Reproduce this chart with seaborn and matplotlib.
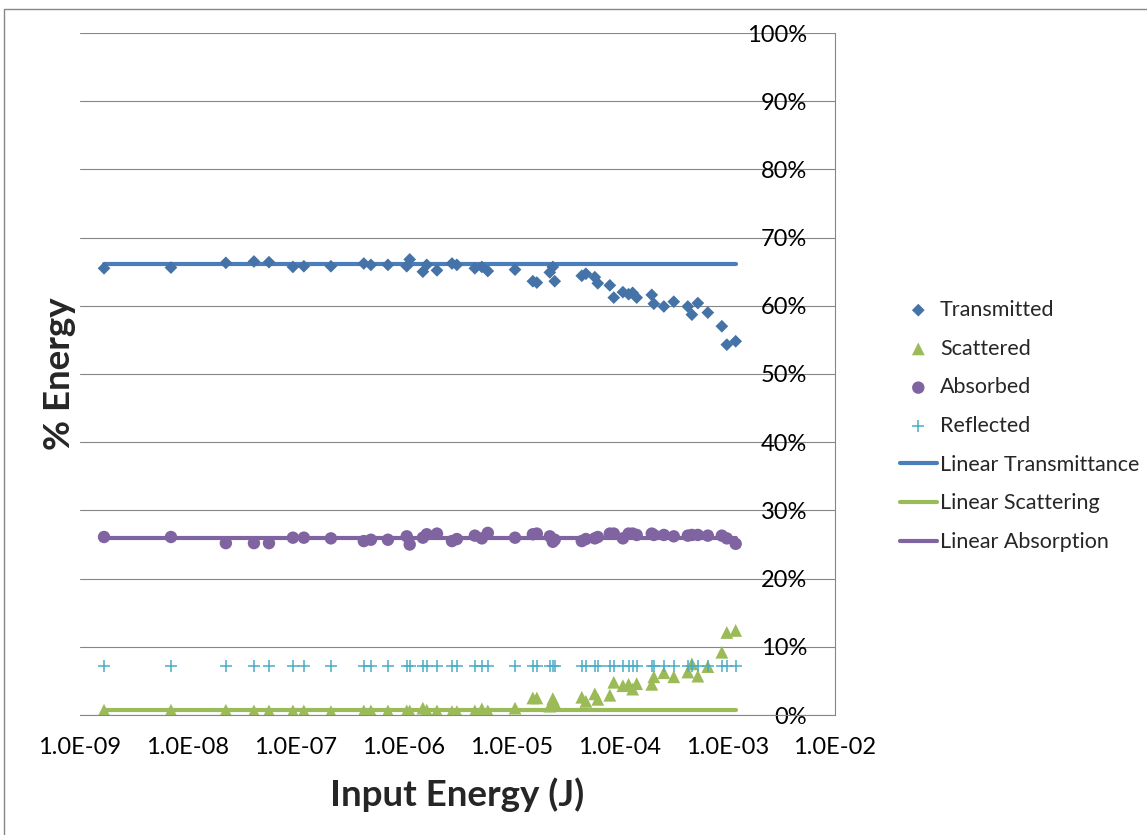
import numpy as np
import pandas as pd
import matplotlib
matplotlib.use("Agg")
import matplotlib.pyplot as plt
import matplotlib.ticker as ticker
from matplotlib.patches import Rectangle
import seaborn as sns

# input energy (J)
energy = [1.67e-9, 6.97e-9, 2.25e-8, 4.10e-8, 5.65e-8, 9.42e-8, 1.19e-7, 2.12e-7,
          4.28e-7, 4.98e-7, 7.16e-7, 1.07e-6, 1.14e-6, 1.51e-6, 1.64e-6, 2.04e-6,
          2.81e-6, 3.12e-6, 4.58e-6, 5.32e-6, 6.04e-6, 1.08e-5, 1.58e-5, 1.72e-5,
          2.27e-5, 2.42e-5, 2.52e-5, 4.49e-5, 4.90e-5, 5.93e-5, 6.32e-5, 8.17e-5,
          8.89e-5, 1.08e-4, 1.22e-4, 1.33e-4, 1.45e-4, 2.00e-4, 2.09e-4, 2.59e-4,
          3.20e-4, 4.32e-4, 4.71e-4, 5.35e-4, 6.62e-4, 8.93e-4, 9.93e-4, 1.20e-3]

# % energy per channel
transmitted = [65.5, 65.6, 66.3, 66.5, 66.4, 65.7, 65.8, 65.8, 66.2, 66.0, 66.0, 65.8,
               66.8, 65.0, 66.0, 65.2, 66.2, 66.0, 65.5, 65.7, 65.1, 65.3, 63.6, 63.4,
               64.9, 65.7, 63.6, 64.4, 64.7, 64.2, 63.3, 63.0, 61.2, 62.0, 61.7, 61.9,
               61.2, 61.6, 60.3, 59.9, 60.6, 59.9, 58.7, 60.4, 59.0, 57.0, 54.3, 54.8]
scattered = [0.7, 0.7, 0.7, 0.6, 0.6, 0.6, 0.6, 0.5, 0.6, 0.6, 0.6, 0.6,
             0.6, 1.0, 0.7, 0.6, 0.5, 0.5, 0.6, 0.9, 0.6, 1.0, 2.5, 2.5,
             1.3, 2.4, 1.8, 2.6, 2.0, 3.1, 2.3, 2.9, 4.8, 4.3, 4.5, 3.8,
             4.6, 4.5, 5.6, 6.2, 5.6, 6.3, 7.5, 5.7, 7.1, 9.2, 12.1, 12.4]
absorbed = [26.1, 26.1, 25.2, 25.2, 25.2, 26.0, 26.0, 25.9, 25.5, 25.7, 25.7, 26.2,
            25.0, 26.0, 26.5, 26.6, 25.5, 25.8, 26.3, 25.9, 26.7, 26.0, 26.5, 26.6,
            26.2, 25.4, 25.7, 25.5, 25.8, 25.9, 26.1, 26.6, 26.6, 25.9, 26.6, 26.6,
            26.4, 26.6, 26.4, 26.4, 26.2, 26.3, 26.4, 26.4, 26.3, 26.3, 25.9, 25.1]
reflected = [7.2, 7.2, 7.2, 7.2, 7.2, 7.2, 7.2, 7.2, 7.2, 7.2, 7.2, 7.2,
             7.2, 7.2, 7.2, 7.2, 7.2, 7.2, 7.2, 7.2, 7.2, 7.2, 7.2, 7.2,
             7.2, 7.2, 7.2, 7.2, 7.2, 7.2, 7.2, 7.2, 7.2, 7.2, 7.2, 7.2,
             7.2, 7.2, 7.2, 7.2, 7.2, 7.2, 7.2, 7.2, 7.2, 7.2, 7.2, 7.2]

# linear trendline levels (%)
fit_transmittance = 66.1
fit_scattering = 0.8
fit_absorption = 25.9

x_decades = [1e-9, 1e-8, 1e-7, 1e-6, 1e-5, 1e-4, 1e-3, 1e-2]

df = pd.DataFrame({"energy": energy, "Transmitted": transmitted, "Scattered": scattered,
                   "Absorbed": absorbed, "Reflected": reflected})

sns.set_style("white")
plt.rcParams["font.family"] = ["Lato", "DejaVu Sans"]

fig = plt.figure(figsize=(11.47, 8.35), dpi=100)
ax = fig.add_axes([80 / 1147, 120 / 835, 755 / 1147, 682 / 835])

grey = "#868686"

# trendlines first, markers on top
e_span = [min(energy), max(energy)]
for level, col, name in [(fit_transmittance, "#4A7EBB", "Linear Transmittance"),
                         (fit_scattering, "#9BBB59", "Linear Scattering"),
                         (fit_absorption, "#7F64A2", "Linear Absorption")]:
    fit_df = pd.DataFrame({"energy": e_span, "level": [level, level]})
    sns.lineplot(data=fit_df, x="energy", y="level", color=col, linewidth=3,
                 label=name, ax=ax, zorder=2)

sns.scatterplot(data=df, x="energy", y="Transmitted", marker="D", s=42, color="#4572A7",
                edgecolor="none", label="Transmitted", ax=ax, zorder=3)
sns.scatterplot(data=df, x="energy", y="Scattered", marker="^", s=85, color="#9BBB59",
                edgecolor="none", label="Scattered", ax=ax, zorder=3)
sns.scatterplot(data=df, x="energy", y="Absorbed", marker="o", s=80, color="#8064A2",
                edgecolor="none", label="Absorbed", ax=ax, zorder=3)
sns.scatterplot(data=df, x="energy", y="Reflected", marker="+", s=65, color="#4BACC6",
                linewidth=1.1, label="Reflected", ax=ax, zorder=3)

ax.set_xscale("log")
ax.set_xlim(1e-9, 1e-2)
ax.set_ylim(0, 100)

ax.xaxis.set_major_locator(ticker.FixedLocator(x_decades))
ax.xaxis.set_minor_locator(ticker.LogLocator(base=10, subs=np.arange(2, 10), numticks=20))
ax.xaxis.set_major_formatter(ticker.FuncFormatter(lambda v, p: f"{v:.1E}"))
ax.xaxis.set_minor_formatter(ticker.NullFormatter())
ax.yaxis.set_major_locator(ticker.MultipleLocator(10))
ax.yaxis.set_major_formatter(ticker.FuncFormatter(lambda v, p: f"{v:.0f}%"))

ax.yaxis.tick_right()
ax.yaxis.set_label_position("left")
ax.tick_params(axis="y", length=0, pad=-20, labelsize=17, labelcolor="black")
for lbl in ax.get_yticklabels():
    lbl.set_horizontalalignment("right")
ax.tick_params(axis="x", which="major", length=7, width=0.8, color=grey, pad=9,
               labelsize=17, labelcolor="black")
ax.tick_params(axis="x", which="minor", length=4, width=0.8, color=grey)

ax.grid(axis="y", color=grey, linewidth=0.8)
ax.grid(axis="x", visible=False)
ax.set_axisbelow(True)
for side in ["top", "left"]:
    ax.spines[side].set_visible(False)
for side in ["bottom", "right"]:
    ax.spines[side].set_color(grey)
    ax.spines[side].set_linewidth(0.8)

ax.set_xlabel("Input Energy (J)", fontsize=26.5, fontweight="bold", labelpad=14)
ax.set_ylabel("% Energy", fontsize=26.5, fontweight="bold", labelpad=3)

handles, labels = ax.get_legend_handles_labels()
lookup = dict(zip(labels, handles))
order = ["Transmitted", "Scattered", "Absorbed", "Reflected",
         "Linear Transmittance", "Linear Scattering", "Linear Absorption"]
ax.legend([lookup[k] for k in order], order, loc="center left",
          bbox_to_anchor=(900 / 1147, 1 - 426 / 835), bbox_transform=fig.transFigure,
          frameon=False, fontsize=15.5, handlelength=1.7, handletextpad=0.15,
          labelspacing=0.87, scatterpoints=1, borderaxespad=0, borderpad=0)

# chart area border
fig.add_artist(Rectangle((4 / 1147, -0.1), 1.2, 1.1 - 9 / 835, transform=fig.transFigure,
                         fill=False, edgecolor=grey, linewidth=1))

fig.savefig("out.png", dpi=100)
